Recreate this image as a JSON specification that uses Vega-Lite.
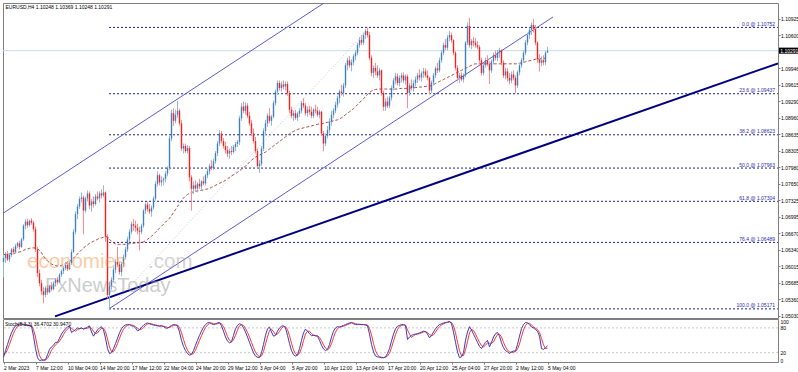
{
"$schema": "https://vega.github.io/schema/vega-lite/v6.json",
"padding": {"left": 1, "top": 2, "right": 0, "bottom": 0},
"background": "#ffffff",
"spacing": 1,
"bounds": "flush",
"config": {
  "view": {"stroke": "#7f7f7f", "strokeWidth": 1},
  "font": "Liberation Sans",
  "axis": {"labelFont": "Liberation Sans", "labelColor": "#000000", "tickColor": "#7f7f7f", "domainColor": "#7f7f7f", "labelOverlap": false, "grid": false}
},
"datasets": {
"fib": [
{"t":"0.0 @ 1.10752","p":1.10752},
{"t":"23.6 @ 1.09437","p":1.09437},
{"t":"38.2 @ 1.08623","p":1.08623},
{"t":"50.0 @ 1.07963","p":1.07963},
{"t":"61.8 @ 1.07304","p":1.07304},
{"t":"76.4 @ 1.06489","p":1.06489},
{"t":"100.0 @ 1.05171","p":1.05171}
],
"bars": [
{"i":0,"o":1.061,"h":1.0625,"l":1.058,"c":1.0618,"ma":1.0625,"k":9,"d":15},
{"i":1,"o":1.0618,"h":1.063,"l":1.0608,"c":1.0626,"ma":1.0625,"k":25,"d":18},
{"i":2,"o":1.0626,"h":1.0632,"l":1.0612,"c":1.0615,"ma":1.0626,"k":40,"d":28},
{"i":3,"o":1.0615,"h":1.0628,"l":1.061,"c":1.0624,"ma":1.0626,"k":55,"d":40},
{"i":4,"o":1.0624,"h":1.0638,"l":1.062,"c":1.0635,"ma":1.0627,"k":68,"d":54},
{"i":5,"o":1.0635,"h":1.064,"l":1.0625,"c":1.063,"ma":1.0627,"k":78,"d":67},
{"i":6,"o":1.063,"h":1.0646,"l":1.0628,"c":1.0642,"ma":1.0628,"k":85,"d":77},
{"i":7,"o":1.0642,"h":1.065,"l":1.0638,"c":1.0647,"ma":1.0629,"k":88,"d":84},
{"i":8,"o":1.0647,"h":1.0652,"l":1.0635,"c":1.064,"ma":1.063,"k":89,"d":87},
{"i":9,"o":1.064,"h":1.0658,"l":1.0638,"c":1.0655,"ma":1.0631,"k":90,"d":89},
{"i":10,"o":1.0655,"h":1.0685,"l":1.0652,"c":1.0682,"ma":1.0633,"k":88,"d":89},
{"i":11,"o":1.0682,"h":1.0695,"l":1.0675,"c":1.069,"ma":1.0635,"k":87,"d":88},
{"i":12,"o":1.069,"h":1.0696,"l":1.0678,"c":1.0683,"ma":1.0636,"k":86,"d":87},
{"i":13,"o":1.0683,"h":1.0694,"l":1.068,"c":1.0692,"ma":1.0637,"k":85,"d":86},
{"i":14,"o":1.0692,"h":1.0697,"l":1.0684,"c":1.0688,"ma":1.0638,"k":84,"d":85},
{"i":15,"o":1.0688,"h":1.0692,"l":1.067,"c":1.0675,"ma":1.0638,"k":60,"d":76},
{"i":16,"o":1.0675,"h":1.068,"l":1.063,"c":1.0635,"ma":1.0638,"k":30,"d":58},
{"i":17,"o":1.0635,"h":1.064,"l":1.058,"c":1.0588,"ma":1.0636,"k":8,"d":33},
{"i":18,"o":1.0588,"h":1.0595,"l":1.0562,"c":1.0568,"ma":1.0633,"k":1,"d":13},
{"i":19,"o":1.0568,"h":1.0575,"l":1.0545,"c":1.0552,"ma":1.0628,"k":2,"d":4},
{"i":20,"o":1.0552,"h":1.056,"l":1.0528,"c":1.0545,"ma":1.0622,"k":2,"d":2},
{"i":21,"o":1.0545,"h":1.0562,"l":1.054,"c":1.0558,"ma":1.0616,"k":3,"d":2},
{"i":22,"o":1.0558,"h":1.0564,"l":1.0545,"c":1.055,"ma":1.0612,"k":15,"d":7},
{"i":23,"o":1.055,"h":1.0565,"l":1.0548,"c":1.0562,"ma":1.0609,"k":28,"d":15},
{"i":24,"o":1.0562,"h":1.057,"l":1.0552,"c":1.0556,"ma":1.0606,"k":34,"d":26},
{"i":25,"o":1.0556,"h":1.0572,"l":1.0554,"c":1.0568,"ma":1.0604,"k":38,"d":33},
{"i":26,"o":1.0568,"h":1.0578,"l":1.0562,"c":1.0575,"ma":1.0603,"k":45,"d":39},
{"i":27,"o":1.0575,"h":1.058,"l":1.0565,"c":1.057,"ma":1.0602,"k":45,"d":43},
{"i":28,"o":1.057,"h":1.0588,"l":1.0568,"c":1.0585,"ma":1.0602,"k":55,"d":48},
{"i":29,"o":1.0585,"h":1.0595,"l":1.058,"c":1.0592,"ma":1.0603,"k":65,"d":55},
{"i":30,"o":1.0592,"h":1.0602,"l":1.0586,"c":1.0598,"ma":1.0605,"k":72,"d":64},
{"i":31,"o":1.0598,"h":1.061,"l":1.0594,"c":1.0604,"ma":1.0607,"k":78,"d":72},
{"i":32,"o":1.0604,"h":1.0612,"l":1.0592,"c":1.0596,"ma":1.0609,"k":82,"d":77},
{"i":33,"o":1.0596,"h":1.0612,"l":1.0594,"c":1.0608,"ma":1.0611,"k":85,"d":82},
{"i":34,"o":1.0608,"h":1.0635,"l":1.0604,"c":1.063,"ma":1.0614,"k":69,"d":79},
{"i":35,"o":1.063,"h":1.0675,"l":1.0628,"c":1.067,"ma":1.0618,"k":72,"d":75},
{"i":36,"o":1.067,"h":1.071,"l":1.0665,"c":1.0705,"ma":1.0622,"k":76,"d":72},
{"i":37,"o":1.0705,"h":1.0725,"l":1.0695,"c":1.072,"ma":1.0626,"k":80,"d":76},
{"i":38,"o":1.072,"h":1.074,"l":1.0715,"c":1.0735,"ma":1.063,"k":78,"d":78},
{"i":39,"o":1.0735,"h":1.0748,"l":1.0728,"c":1.0738,"ma":1.0634,"k":80,"d":79},
{"i":40,"o":1.0738,"h":1.0742,"l":1.0665,"c":1.0712,"ma":1.0638,"k":77,"d":78},
{"i":41,"o":1.0712,"h":1.074,"l":1.0708,"c":1.0736,"ma":1.0641,"k":79,"d":79},
{"i":42,"o":1.0736,"h":1.0752,"l":1.073,"c":1.0746,"ma":1.0644,"k":82,"d":79},
{"i":43,"o":1.0746,"h":1.075,"l":1.0715,"c":1.0722,"ma":1.0647,"k":85,"d":82},
{"i":44,"o":1.0722,"h":1.0735,"l":1.071,"c":1.073,"ma":1.0649,"k":70,"d":79},
{"i":45,"o":1.073,"h":1.074,"l":1.0718,"c":1.0725,"ma":1.0651,"k":60,"d":72},
{"i":46,"o":1.0725,"h":1.0745,"l":1.0722,"c":1.074,"ma":1.0653,"k":68,"d":66},
{"i":47,"o":1.074,"h":1.075,"l":1.0732,"c":1.0736,"ma":1.0655,"k":75,"d":68},
{"i":48,"o":1.0736,"h":1.075,"l":1.0728,"c":1.0746,"ma":1.0657,"k":80,"d":74},
{"i":49,"o":1.0746,"h":1.0754,"l":1.0736,"c":1.0742,"ma":1.0658,"k":83,"d":79},
{"i":50,"o":1.0742,"h":1.0762,"l":1.0738,"c":1.0748,"ma":1.0659,"k":75,"d":79},
{"i":51,"o":1.0748,"h":1.075,"l":1.065,"c":1.066,"ma":1.066,"k":55,"d":71},
{"i":52,"o":1.066,"h":1.0665,"l":1.0538,"c":1.0545,"ma":1.066,"k":30,"d":53},
{"i":53,"o":1.0545,"h":1.057,"l":1.0517,"c":1.0562,"ma":1.0655,"k":18,"d":34},
{"i":54,"o":1.0562,"h":1.058,"l":1.0555,"c":1.0575,"ma":1.0651,"k":20,"d":23},
{"i":55,"o":1.0575,"h":1.06,"l":1.057,"c":1.0595,"ma":1.0648,"k":30,"d":23},
{"i":56,"o":1.0595,"h":1.0615,"l":1.0588,"c":1.061,"ma":1.0646,"k":42,"d":31},
{"i":57,"o":1.061,"h":1.064,"l":1.06,"c":1.0605,"ma":1.0645,"k":55,"d":42},
{"i":58,"o":1.0605,"h":1.061,"l":1.0585,"c":1.059,"ma":1.0645,"k":68,"d":55},
{"i":59,"o":1.059,"h":1.061,"l":1.0582,"c":1.0606,"ma":1.0645,"k":78,"d":67},
{"i":60,"o":1.0606,"h":1.0625,"l":1.06,"c":1.062,"ma":1.0645,"k":84,"d":77},
{"i":61,"o":1.062,"h":1.064,"l":1.0615,"c":1.0635,"ma":1.0645,"k":87,"d":83},
{"i":62,"o":1.0635,"h":1.066,"l":1.063,"c":1.0655,"ma":1.0646,"k":88,"d":86},
{"i":63,"o":1.0655,"h":1.0675,"l":1.065,"c":1.067,"ma":1.0646,"k":88,"d":88},
{"i":64,"o":1.067,"h":1.069,"l":1.0665,"c":1.0685,"ma":1.0647,"k":85,"d":87},
{"i":65,"o":1.0685,"h":1.0695,"l":1.0672,"c":1.0682,"ma":1.0647,"k":84,"d":86},
{"i":66,"o":1.0682,"h":1.0692,"l":1.067,"c":1.0678,"ma":1.0648,"k":80,"d":83},
{"i":67,"o":1.0678,"h":1.0686,"l":1.0665,"c":1.0672,"ma":1.0648,"k":73,"d":79},
{"i":68,"o":1.0672,"h":1.068,"l":1.0633,"c":1.067,"ma":1.0648,"k":75,"d":76},
{"i":69,"o":1.067,"h":1.0686,"l":1.0665,"c":1.0682,"ma":1.0649,"k":82,"d":77},
{"i":70,"o":1.0682,"h":1.0715,"l":1.0678,"c":1.0712,"ma":1.065,"k":86,"d":81},
{"i":71,"o":1.0712,"h":1.0728,"l":1.0705,"c":1.0724,"ma":1.0652,"k":90,"d":86},
{"i":72,"o":1.0724,"h":1.073,"l":1.071,"c":1.0715,"ma":1.0655,"k":92,"d":89},
{"i":73,"o":1.0715,"h":1.0725,"l":1.0705,"c":1.071,"ma":1.0658,"k":90,"d":91},
{"i":74,"o":1.071,"h":1.0722,"l":1.07,"c":1.0718,"ma":1.0661,"k":88,"d":90},
{"i":75,"o":1.0718,"h":1.074,"l":1.0714,"c":1.0736,"ma":1.0665,"k":87,"d":88},
{"i":76,"o":1.0736,"h":1.077,"l":1.0732,"c":1.0765,"ma":1.0669,"k":86,"d":87},
{"i":77,"o":1.0765,"h":1.079,"l":1.076,"c":1.0782,"ma":1.0673,"k":85,"d":86},
{"i":78,"o":1.0782,"h":1.0785,"l":1.0762,"c":1.0768,"ma":1.0677,"k":84,"d":85},
{"i":79,"o":1.0768,"h":1.078,"l":1.076,"c":1.0772,"ma":1.0681,"k":85,"d":85},
{"i":80,"o":1.0772,"h":1.0778,"l":1.0762,"c":1.0775,"ma":1.0685,"k":83,"d":84},
{"i":81,"o":1.0775,"h":1.079,"l":1.0768,"c":1.0785,"ma":1.0689,"k":80,"d":83},
{"i":82,"o":1.0785,"h":1.08,"l":1.078,"c":1.0796,"ma":1.0693,"k":79,"d":81},
{"i":83,"o":1.0796,"h":1.086,"l":1.0792,"c":1.0855,"ma":1.0697,"k":83,"d":81},
{"i":84,"o":1.0855,"h":1.0912,"l":1.085,"c":1.0905,"ma":1.0702,"k":86,"d":83},
{"i":85,"o":1.0905,"h":1.0915,"l":1.088,"c":1.089,"ma":1.0708,"k":88,"d":86},
{"i":86,"o":1.089,"h":1.0912,"l":1.0885,"c":1.0902,"ma":1.0714,"k":87,"d":87},
{"i":87,"o":1.0902,"h":1.093,"l":1.0896,"c":1.091,"ma":1.072,"k":85,"d":87},
{"i":88,"o":1.091,"h":1.0914,"l":1.088,"c":1.0885,"ma":1.0726,"k":70,"d":81},
{"i":89,"o":1.0885,"h":1.0892,"l":1.083,"c":1.0835,"ma":1.0732,"k":50,"d":68},
{"i":90,"o":1.0835,"h":1.0845,"l":1.0825,"c":1.084,"ma":1.0737,"k":35,"d":52},
{"i":91,"o":1.084,"h":1.0845,"l":1.0826,"c":1.083,"ma":1.0741,"k":25,"d":37},
{"i":92,"o":1.083,"h":1.0842,"l":1.0825,"c":1.0836,"ma":1.0744,"k":18,"d":26},
{"i":93,"o":1.0836,"h":1.084,"l":1.077,"c":1.0778,"ma":1.0746,"k":14,"d":19},
{"i":94,"o":1.0778,"h":1.0782,"l":1.0712,"c":1.0755,"ma":1.0748,"k":16,"d":16},
{"i":95,"o":1.0755,"h":1.077,"l":1.0745,"c":1.0762,"ma":1.0749,"k":25,"d":18},
{"i":96,"o":1.0762,"h":1.0772,"l":1.075,"c":1.0756,"ma":1.075,"k":38,"d":26},
{"i":97,"o":1.0756,"h":1.0768,"l":1.0748,"c":1.0765,"ma":1.0751,"k":50,"d":38},
{"i":98,"o":1.0765,"h":1.0775,"l":1.0755,"c":1.076,"ma":1.0752,"k":62,"d":50},
{"i":99,"o":1.076,"h":1.0772,"l":1.0752,"c":1.077,"ma":1.0752,"k":72,"d":61},
{"i":100,"o":1.077,"h":1.078,"l":1.0762,"c":1.0766,"ma":1.0753,"k":82,"d":72},
{"i":101,"o":1.0766,"h":1.0785,"l":1.0762,"c":1.0782,"ma":1.0754,"k":88,"d":81},
{"i":102,"o":1.0782,"h":1.0795,"l":1.0776,"c":1.079,"ma":1.0755,"k":92,"d":87},
{"i":103,"o":1.079,"h":1.0805,"l":1.0784,"c":1.08,"ma":1.0756,"k":93,"d":91},
{"i":104,"o":1.08,"h":1.0812,"l":1.0792,"c":1.0796,"ma":1.0758,"k":90,"d":92},
{"i":105,"o":1.0796,"h":1.0815,"l":1.0792,"c":1.081,"ma":1.076,"k":88,"d":90},
{"i":106,"o":1.081,"h":1.083,"l":1.0805,"c":1.0826,"ma":1.0762,"k":90,"d":89},
{"i":107,"o":1.0826,"h":1.085,"l":1.082,"c":1.0845,"ma":1.0764,"k":92,"d":90},
{"i":108,"o":1.0845,"h":1.0872,"l":1.084,"c":1.0865,"ma":1.0766,"k":93,"d":92},
{"i":109,"o":1.0865,"h":1.087,"l":1.0845,"c":1.085,"ma":1.0768,"k":85,"d":90},
{"i":110,"o":1.085,"h":1.0856,"l":1.0835,"c":1.084,"ma":1.077,"k":72,"d":83},
{"i":111,"o":1.084,"h":1.0848,"l":1.0825,"c":1.0832,"ma":1.0772,"k":58,"d":72},
{"i":112,"o":1.0832,"h":1.084,"l":1.0818,"c":1.0825,"ma":1.0775,"k":48,"d":59},
{"i":113,"o":1.0825,"h":1.0835,"l":1.0815,"c":1.083,"ma":1.0778,"k":44,"d":50},
{"i":114,"o":1.083,"h":1.084,"l":1.0822,"c":1.0828,"ma":1.0781,"k":46,"d":46},
{"i":115,"o":1.0828,"h":1.0842,"l":1.0825,"c":1.0838,"ma":1.0783,"k":62,"d":51},
{"i":116,"o":1.0838,"h":1.0848,"l":1.083,"c":1.0844,"ma":1.0785,"k":78,"d":62},
{"i":117,"o":1.0844,"h":1.0852,"l":1.0838,"c":1.0848,"ma":1.0788,"k":86,"d":75},
{"i":118,"o":1.0848,"h":1.09,"l":1.0842,"c":1.0895,"ma":1.0791,"k":90,"d":85},
{"i":119,"o":1.0895,"h":1.0925,"l":1.089,"c":1.0918,"ma":1.0794,"k":88,"d":88},
{"i":120,"o":1.0918,"h":1.0928,"l":1.0905,"c":1.091,"ma":1.0797,"k":80,"d":86},
{"i":121,"o":1.091,"h":1.0926,"l":1.0902,"c":1.092,"ma":1.08,"k":70,"d":79},
{"i":122,"o":1.092,"h":1.0925,"l":1.0895,"c":1.09,"ma":1.0804,"k":58,"d":69},
{"i":123,"o":1.09,"h":1.0908,"l":1.088,"c":1.0885,"ma":1.0808,"k":45,"d":58},
{"i":124,"o":1.0885,"h":1.0892,"l":1.086,"c":1.0865,"ma":1.0812,"k":32,"d":45},
{"i":125,"o":1.0865,"h":1.0875,"l":1.0845,"c":1.085,"ma":1.0815,"k":20,"d":32},
{"i":126,"o":1.085,"h":1.0858,"l":1.0825,"c":1.083,"ma":1.0818,"k":12,"d":21},
{"i":127,"o":1.083,"h":1.0835,"l":1.0795,"c":1.08,"ma":1.082,"k":9,"d":14},
{"i":128,"o":1.08,"h":1.0812,"l":1.0787,"c":1.0805,"ma":1.0822,"k":8,"d":10},
{"i":129,"o":1.0805,"h":1.084,"l":1.08,"c":1.0835,"ma":1.0824,"k":20,"d":12},
{"i":130,"o":1.0835,"h":1.0875,"l":1.083,"c":1.087,"ma":1.0826,"k":40,"d":23},
{"i":131,"o":1.087,"h":1.0892,"l":1.0862,"c":1.0885,"ma":1.0828,"k":62,"d":41},
{"i":132,"o":1.0885,"h":1.0905,"l":1.0878,"c":1.09,"ma":1.0831,"k":78,"d":58},
{"i":133,"o":1.09,"h":1.0915,"l":1.0885,"c":1.089,"ma":1.0834,"k":82,"d":74},
{"i":134,"o":1.089,"h":1.0902,"l":1.088,"c":1.0898,"ma":1.0837,"k":70,"d":77},
{"i":135,"o":1.0898,"h":1.093,"l":1.0895,"c":1.0925,"ma":1.084,"k":60,"d":71},
{"i":136,"o":1.0925,"h":1.0952,"l":1.092,"c":1.0948,"ma":1.0843,"k":62,"d":64},
{"i":137,"o":1.0948,"h":1.097,"l":1.0942,"c":1.0965,"ma":1.0846,"k":72,"d":65},
{"i":138,"o":1.0965,"h":1.097,"l":1.095,"c":1.0955,"ma":1.0849,"k":80,"d":71},
{"i":139,"o":1.0955,"h":1.0968,"l":1.0948,"c":1.0962,"ma":1.0852,"k":84,"d":79},
{"i":140,"o":1.0962,"h":1.097,"l":1.0952,"c":1.0958,"ma":1.0855,"k":85,"d":83},
{"i":141,"o":1.0958,"h":1.0968,"l":1.095,"c":1.0963,"ma":1.0858,"k":80,"d":83},
{"i":142,"o":1.0963,"h":1.0968,"l":1.094,"c":1.0945,"ma":1.0861,"k":62,"d":76},
{"i":143,"o":1.0945,"h":1.095,"l":1.0905,"c":1.0912,"ma":1.0864,"k":42,"d":61},
{"i":144,"o":1.0912,"h":1.0918,"l":1.0895,"c":1.09,"ma":1.0867,"k":25,"d":43},
{"i":145,"o":1.09,"h":1.091,"l":1.089,"c":1.0905,"ma":1.0869,"k":15,"d":27},
{"i":146,"o":1.0905,"h":1.0912,"l":1.0892,"c":1.0896,"ma":1.0871,"k":12,"d":17},
{"i":147,"o":1.0896,"h":1.0908,"l":1.089,"c":1.0904,"ma":1.0873,"k":14,"d":14},
{"i":148,"o":1.0904,"h":1.0915,"l":1.0898,"c":1.091,"ma":1.0874,"k":30,"d":19},
{"i":149,"o":1.091,"h":1.093,"l":1.0905,"c":1.0925,"ma":1.0875,"k":50,"d":31},
{"i":150,"o":1.0925,"h":1.0935,"l":1.0915,"c":1.092,"ma":1.0876,"k":68,"d":49},
{"i":151,"o":1.092,"h":1.0925,"l":1.09,"c":1.0905,"ma":1.0877,"k":77,"d":65},
{"i":152,"o":1.0905,"h":1.0918,"l":1.0898,"c":1.0912,"ma":1.0878,"k":72,"d":72},
{"i":153,"o":1.0912,"h":1.092,"l":1.0902,"c":1.0908,"ma":1.0879,"k":66,"d":72},
{"i":154,"o":1.0908,"h":1.0918,"l":1.0895,"c":1.09,"ma":1.088,"k":61,"d":66},
{"i":155,"o":1.09,"h":1.0915,"l":1.0895,"c":1.0912,"ma":1.0881,"k":62,"d":63},
{"i":156,"o":1.0912,"h":1.0922,"l":1.0905,"c":1.091,"ma":1.0882,"k":61,"d":61},
{"i":157,"o":1.091,"h":1.0918,"l":1.0898,"c":1.0902,"ma":1.0883,"k":60,"d":61},
{"i":158,"o":1.0902,"h":1.0912,"l":1.0895,"c":1.0908,"ma":1.0884,"k":50,"d":57},
{"i":159,"o":1.0908,"h":1.091,"l":1.086,"c":1.0865,"ma":1.0884,"k":38,"d":49},
{"i":160,"o":1.0865,"h":1.087,"l":1.083,"c":1.0845,"ma":1.0885,"k":29,"d":39},
{"i":161,"o":1.0845,"h":1.0865,"l":1.084,"c":1.086,"ma":1.0886,"k":25,"d":31},
{"i":162,"o":1.086,"h":1.088,"l":1.0855,"c":1.0872,"ma":1.0887,"k":28,"d":27},
{"i":163,"o":1.0872,"h":1.0895,"l":1.0865,"c":1.0888,"ma":1.0888,"k":40,"d":31},
{"i":164,"o":1.0888,"h":1.091,"l":1.088,"c":1.0902,"ma":1.0889,"k":58,"d":42},
{"i":165,"o":1.0902,"h":1.0915,"l":1.0895,"c":1.091,"ma":1.089,"k":72,"d":57},
{"i":166,"o":1.091,"h":1.0928,"l":1.0905,"c":1.0922,"ma":1.0891,"k":80,"d":70},
{"i":167,"o":1.0922,"h":1.094,"l":1.0916,"c":1.0935,"ma":1.0892,"k":83,"d":78},
{"i":168,"o":1.0935,"h":1.0952,"l":1.0925,"c":1.0948,"ma":1.0894,"k":82,"d":82},
{"i":169,"o":1.0948,"h":1.0962,"l":1.094,"c":1.0945,"ma":1.0896,"k":84,"d":83},
{"i":170,"o":1.0945,"h":1.0965,"l":1.0938,"c":1.096,"ma":1.0899,"k":86,"d":84},
{"i":171,"o":1.096,"h":1.1005,"l":1.0955,"c":1.1,"ma":1.0902,"k":88,"d":86},
{"i":172,"o":1.1,"h":1.1015,"l":1.099,"c":1.101,"ma":1.0905,"k":90,"d":88},
{"i":173,"o":1.101,"h":1.1018,"l":1.0995,"c":1.1,"ma":1.0908,"k":92,"d":90},
{"i":174,"o":1.1,"h":1.1012,"l":1.0988,"c":1.1006,"ma":1.0911,"k":93,"d":92},
{"i":175,"o":1.1006,"h":1.1022,"l":1.1,"c":1.1018,"ma":1.0914,"k":90,"d":92},
{"i":176,"o":1.1018,"h":1.103,"l":1.101,"c":1.1025,"ma":1.0918,"k":88,"d":90},
{"i":177,"o":1.1025,"h":1.1045,"l":1.102,"c":1.104,"ma":1.0922,"k":88,"d":89},
{"i":178,"o":1.104,"h":1.1056,"l":1.1035,"c":1.105,"ma":1.0926,"k":89,"d":88},
{"i":179,"o":1.105,"h":1.106,"l":1.104,"c":1.1045,"ma":1.093,"k":88,"d":88},
{"i":180,"o":1.1045,"h":1.1065,"l":1.104,"c":1.106,"ma":1.0934,"k":88,"d":88},
{"i":181,"o":1.106,"h":1.1072,"l":1.1052,"c":1.1068,"ma":1.0938,"k":87,"d":88},
{"i":182,"o":1.1068,"h":1.1075,"l":1.1055,"c":1.106,"ma":1.0942,"k":85,"d":87},
{"i":183,"o":1.106,"h":1.1066,"l":1.101,"c":1.1015,"ma":1.0946,"k":65,"d":79},
{"i":184,"o":1.1015,"h":1.102,"l":1.0978,"c":1.0985,"ma":1.0949,"k":40,"d":63},
{"i":185,"o":1.0985,"h":1.1,"l":1.0975,"c":1.0995,"ma":1.0951,"k":22,"d":42},
{"i":186,"o":1.0995,"h":1.1005,"l":1.098,"c":1.0988,"ma":1.0952,"k":12,"d":25},
{"i":187,"o":1.0988,"h":1.1,"l":1.0975,"c":1.098,"ma":1.0953,"k":10,"d":15},
{"i":188,"o":1.098,"h":1.0995,"l":1.097,"c":1.099,"ma":1.0953,"k":9,"d":10},
{"i":189,"o":1.099,"h":1.0992,"l":1.094,"c":1.0945,"ma":1.0953,"k":8,"d":9},
{"i":190,"o":1.0945,"h":1.095,"l":1.091,"c":1.0918,"ma":1.0953,"k":8,"d":8},
{"i":191,"o":1.0918,"h":1.0935,"l":1.091,"c":1.0928,"ma":1.0953,"k":10,"d":9},
{"i":192,"o":1.0928,"h":1.0938,"l":1.0915,"c":1.092,"ma":1.0953,"k":18,"d":12},
{"i":193,"o":1.092,"h":1.094,"l":1.0915,"c":1.0936,"ma":1.0953,"k":30,"d":19},
{"i":194,"o":1.0936,"h":1.096,"l":1.093,"c":1.0955,"ma":1.0953,"k":48,"d":32},
{"i":195,"o":1.0955,"h":1.0975,"l":1.095,"c":1.097,"ma":1.0953,"k":65,"d":48},
{"i":196,"o":1.097,"h":1.0985,"l":1.0962,"c":1.0978,"ma":1.0953,"k":78,"d":64},
{"i":197,"o":1.0978,"h":1.0984,"l":1.096,"c":1.0965,"ma":1.0953,"k":84,"d":76},
{"i":198,"o":1.0965,"h":1.098,"l":1.0958,"c":1.0975,"ma":1.0954,"k":86,"d":83},
{"i":199,"o":1.0975,"h":1.0985,"l":1.0966,"c":1.098,"ma":1.0954,"k":88,"d":86},
{"i":200,"o":1.098,"h":1.0986,"l":1.0965,"c":1.097,"ma":1.0954,"k":88,"d":87},
{"i":201,"o":1.097,"h":1.0982,"l":1.0962,"c":1.0978,"ma":1.0954,"k":86,"d":87},
{"i":202,"o":1.0978,"h":1.0982,"l":1.0915,"c":1.0945,"ma":1.0955,"k":52,"d":75},
{"i":203,"o":1.0945,"h":1.0965,"l":1.094,"c":1.096,"ma":1.0955,"k":58,"d":65},
{"i":204,"o":1.096,"h":1.0972,"l":1.095,"c":1.0955,"ma":1.0955,"k":62,"d":57},
{"i":205,"o":1.0955,"h":1.097,"l":1.0948,"c":1.0965,"ma":1.0955,"k":64,"d":61},
{"i":206,"o":1.0965,"h":1.0978,"l":1.0958,"c":1.0972,"ma":1.0956,"k":65,"d":64},
{"i":207,"o":1.0972,"h":1.0985,"l":1.0965,"c":1.098,"ma":1.0956,"k":66,"d":65},
{"i":208,"o":1.098,"h":1.0992,"l":1.097,"c":1.0976,"ma":1.0957,"k":68,"d":66},
{"i":209,"o":1.0976,"h":1.0988,"l":1.0968,"c":1.0984,"ma":1.0957,"k":70,"d":68},
{"i":210,"o":1.0984,"h":1.0995,"l":1.0975,"c":1.0988,"ma":1.0958,"k":72,"d":70},
{"i":211,"o":1.0988,"h":1.0994,"l":1.0976,"c":1.098,"ma":1.0958,"k":71,"d":71},
{"i":212,"o":1.098,"h":1.099,"l":1.097,"c":1.0975,"ma":1.0959,"k":65,"d":69},
{"i":213,"o":1.0975,"h":1.0978,"l":1.0943,"c":1.095,"ma":1.0959,"k":56,"d":64},
{"i":214,"o":1.095,"h":1.097,"l":1.0945,"c":1.0966,"ma":1.096,"k":62,"d":61},
{"i":215,"o":1.0966,"h":1.0985,"l":1.096,"c":1.098,"ma":1.0962,"k":70,"d":63},
{"i":216,"o":1.098,"h":1.0998,"l":1.0975,"c":1.0994,"ma":1.0964,"k":78,"d":70},
{"i":217,"o":1.0994,"h":1.1005,"l":1.0985,"c":1.099,"ma":1.0966,"k":84,"d":77},
{"i":218,"o":1.099,"h":1.1015,"l":1.0986,"c":1.101,"ma":1.0968,"k":88,"d":83},
{"i":219,"o":1.101,"h":1.103,"l":1.1005,"c":1.1025,"ma":1.097,"k":90,"d":87},
{"i":220,"o":1.1025,"h":1.1045,"l":1.102,"c":1.104,"ma":1.0972,"k":92,"d":90},
{"i":221,"o":1.104,"h":1.1052,"l":1.103,"c":1.1035,"ma":1.0974,"k":93,"d":92},
{"i":222,"o":1.1035,"h":1.106,"l":1.103,"c":1.1055,"ma":1.0976,"k":94,"d":93},
{"i":223,"o":1.1055,"h":1.1068,"l":1.1048,"c":1.106,"ma":1.0978,"k":96,"d":94},
{"i":224,"o":1.106,"h":1.1065,"l":1.1045,"c":1.105,"ma":1.098,"k":90,"d":93},
{"i":225,"o":1.105,"h":1.1052,"l":1.102,"c":1.1025,"ma":1.0982,"k":70,"d":85},
{"i":226,"o":1.1025,"h":1.1028,"l":1.099,"c":1.0995,"ma":1.0984,"k":45,"d":68},
{"i":227,"o":1.0995,"h":1.1,"l":1.0968,"c":1.0975,"ma":1.0986,"k":22,"d":46},
{"i":228,"o":1.0975,"h":1.0985,"l":1.0965,"c":1.098,"ma":1.0988,"k":8,"d":25},
{"i":229,"o":1.098,"h":1.0986,"l":1.0968,"c":1.0972,"ma":1.099,"k":10,"d":13},
{"i":230,"o":1.0972,"h":1.0984,"l":1.0966,"c":1.098,"ma":1.0992,"k":20,"d":13},
{"i":231,"o":1.098,"h":1.1048,"l":1.0976,"c":1.1045,"ma":1.0994,"k":50,"d":27},
{"i":232,"o":1.1045,"h":1.1085,"l":1.104,"c":1.1078,"ma":1.0996,"k":70,"d":47},
{"i":233,"o":1.1078,"h":1.1094,"l":1.1035,"c":1.104,"ma":1.0998,"k":83,"d":68},
{"i":234,"o":1.104,"h":1.1052,"l":1.1032,"c":1.1048,"ma":1.1,"k":75,"d":76},
{"i":235,"o":1.1048,"h":1.1056,"l":1.1038,"c":1.1045,"ma":1.1002,"k":65,"d":74},
{"i":236,"o":1.1045,"h":1.1054,"l":1.1035,"c":1.104,"ma":1.1003,"k":55,"d":65},
{"i":237,"o":1.104,"h":1.1048,"l":1.1032,"c":1.1036,"ma":1.1003,"k":45,"d":55},
{"i":238,"o":1.1036,"h":1.104,"l":1.1005,"c":1.101,"ma":1.1003,"k":35,"d":45},
{"i":239,"o":1.101,"h":1.1015,"l":1.098,"c":1.0985,"ma":1.1003,"k":30,"d":37},
{"i":240,"o":1.0985,"h":1.1005,"l":1.098,"c":1.1,"ma":1.1003,"k":38,"d":34},
{"i":241,"o":1.1,"h":1.1015,"l":1.0995,"c":1.101,"ma":1.1003,"k":45,"d":38},
{"i":242,"o":1.101,"h":1.102,"l":1.0998,"c":1.1002,"ma":1.1003,"k":50,"d":44},
{"i":243,"o":1.1002,"h":1.1008,"l":1.0963,"c":1.099,"ma":1.1003,"k":34,"d":43},
{"i":244,"o":1.099,"h":1.1012,"l":1.0985,"c":1.1008,"ma":1.1003,"k":45,"d":43},
{"i":245,"o":1.1008,"h":1.1025,"l":1.1002,"c":1.102,"ma":1.1003,"k":58,"d":46},
{"i":246,"o":1.102,"h":1.103,"l":1.101,"c":1.1015,"ma":1.1003,"k":66,"d":56},
{"i":247,"o":1.1015,"h":1.103,"l":1.1008,"c":1.1025,"ma":1.1003,"k":69,"d":64},
{"i":248,"o":1.1025,"h":1.1035,"l":1.1015,"c":1.103,"ma":1.1003,"k":60,"d":65},
{"i":249,"o":1.103,"h":1.1032,"l":1.1,"c":1.1005,"ma":1.1003,"k":44,"d":58},
{"i":250,"o":1.1005,"h":1.101,"l":1.0975,"c":1.098,"ma":1.1003,"k":32,"d":45},
{"i":251,"o":1.098,"h":1.0995,"l":1.0972,"c":1.0988,"ma":1.1003,"k":25,"d":34},
{"i":252,"o":1.0988,"h":1.0994,"l":1.0968,"c":1.0975,"ma":1.1003,"k":22,"d":26},
{"i":253,"o":1.0975,"h":1.0985,"l":1.0962,"c":1.097,"ma":1.1003,"k":18,"d":22},
{"i":254,"o":1.097,"h":1.0988,"l":1.0965,"c":1.0982,"ma":1.1003,"k":22,"d":21},
{"i":255,"o":1.0982,"h":1.099,"l":1.097,"c":1.0975,"ma":1.1003,"k":24,"d":21},
{"i":256,"o":1.0975,"h":1.098,"l":1.0945,"c":1.096,"ma":1.1003,"k":24,"d":23},
{"i":257,"o":1.096,"h":1.099,"l":1.0955,"c":1.0986,"ma":1.1003,"k":40,"d":29},
{"i":258,"o":1.0986,"h":1.1005,"l":1.098,"c":1.1,"ma":1.1004,"k":60,"d":41},
{"i":259,"o":1.1,"h":1.1015,"l":1.0995,"c":1.101,"ma":1.1005,"k":78,"d":59},
{"i":260,"o":1.101,"h":1.103,"l":1.1005,"c":1.1025,"ma":1.1006,"k":88,"d":75},
{"i":261,"o":1.1025,"h":1.105,"l":1.102,"c":1.1045,"ma":1.1007,"k":93,"d":86},
{"i":262,"o":1.1045,"h":1.1065,"l":1.104,"c":1.106,"ma":1.1008,"k":92,"d":91},
{"i":263,"o":1.106,"h":1.1075,"l":1.1052,"c":1.107,"ma":1.1009,"k":88,"d":91},
{"i":264,"o":1.107,"h":1.1085,"l":1.106,"c":1.108,"ma":1.101,"k":82,"d":87},
{"i":265,"o":1.108,"h":1.1092,"l":1.1065,"c":1.1072,"ma":1.1011,"k":80,"d":83},
{"i":266,"o":1.1072,"h":1.108,"l":1.104,"c":1.1045,"ma":1.1012,"k":76,"d":79},
{"i":267,"o":1.1045,"h":1.1048,"l":1.1005,"c":1.1012,"ma":1.1012,"k":72,"d":76},
{"i":268,"o":1.1012,"h":1.1022,"l":1.0988,"c":1.1005,"ma":1.1013,"k":60,"d":69},
{"i":269,"o":1.1005,"h":1.1018,"l":1.0998,"c":1.101,"ma":1.1013,"k":30,"d":54},
{"i":270,"o":1.101,"h":1.102,"l":1.1,"c":1.1006,"ma":1.1014,"k":28,"d":39},
{"i":271,"o":1.1006,"h":1.1028,"l":1.1,"c":1.10248,"ma":1.1014,"k":32,"d":30},
{"i":272,"o":1.10248,"h":1.10369,"l":1.10248,"c":1.10291,"ma":1.1015,"k":36.47,"d":30.95}
]
},
"vconcat": [
{
"width": 775, "height": 315,
"layer": [
{"data": {"values": [{}]}, "mark": {"type": "rule", "color": "#c4dde6", "strokeWidth": 1},
 "encoding": {
  "x": {"datum": -0.25, "type": "quantitative", "scale": {"domain": [-0.25, 387.25], "nice": false, "zero": false}, "axis": null},
  "x2": {"datum": 387.25},
  "y": {"datum": 1.10291, "type": "quantitative", "scale": {"domain": [1.0499, 1.11236], "nice": false, "zero": false},
   "axis": {"orient": "right", "values": [1.0503,1.0536,1.05685,1.06015,1.0634,1.0667,1.06995,1.07325,1.0765,1.0798,1.08305,1.08635,1.0896,1.0929,1.09615,1.09946,1.106,1.10925], "format": ".5f", "labelFontSize": 5, "tickSize": 2, "labelPadding": 0.5, "title": null, "grid": false, "domain": false, "labelOverlap": false, "labelFlush": false}}}},
{"data": {"name": "fib"}, "mark": {"type": "rule", "color": "#1f1f9e", "strokeWidth": 1, "strokeDash": [2, 2]},
 "encoding": {"x": {"datum": 52.75, "type": "quantitative", "axis": null}, "x2": {"datum": 387.25},
  "y": {"field": "p", "type": "quantitative", "axis": {"orient": "right", "values": [1.0503,1.0536,1.05685,1.06015,1.0634,1.0667,1.06995,1.07325,1.0765,1.0798,1.08305,1.08635,1.0896,1.0929,1.09615,1.09946,1.106,1.10925], "format": ".5f", "labelFontSize": 5, "tickSize": 2, "labelPadding": 0.5, "title": null, "grid": false, "domain": false, "labelOverlap": false, "labelFlush": false}}}},
{"data": {"name": "fib"}, "mark": {"type": "text", "color": "#2a2aa8", "fontSize": 5, "align": "right", "baseline": "bottom", "dy": -0.5},
 "encoding": {"x": {"datum": 385.75, "type": "quantitative", "axis": null},
  "y": {"field": "p", "type": "quantitative", "axis": {"orient": "right", "values": [1.0503,1.0536,1.05685,1.06015,1.0634,1.0667,1.06995,1.07325,1.0765,1.0798,1.08305,1.08635,1.0896,1.0929,1.09615,1.09946,1.106,1.10925], "format": ".5f", "labelFontSize": 5, "tickSize": 2, "labelPadding": 0.5, "title": null, "grid": false, "domain": false, "labelOverlap": false, "labelFlush": false}}, "text": {"field": "t"}}},
{"data": {"values": [{}]}, "mark": {"type": "rule", "color": "#c8c8c8", "strokeWidth": 1, "strokeDash": [1, 2], "clip": true},
 "encoding": {"x": {"datum": 52.75, "type": "quantitative", "axis": null}, "x2": {"datum": 183},
  "y": {"datum": 1.05171, "type": "quantitative", "axis": {"orient": "right", "values": [1.0503,1.0536,1.05685,1.06015,1.0634,1.0667,1.06995,1.07325,1.0765,1.0798,1.08305,1.08635,1.0896,1.0929,1.09615,1.09946,1.106,1.10925], "format": ".5f", "labelFontSize": 5, "tickSize": 2, "labelPadding": 0.5, "title": null, "grid": false, "domain": false, "labelOverlap": false, "labelFlush": false}}, "y2": {"datum": 1.10752}}},
{"data": {"values": [{}]}, "mark": {"type": "rule", "color": "#5c5cd0", "strokeWidth": 1, "clip": true},
 "encoding": {"x": {"datum": -0.25, "type": "quantitative", "axis": null}, "x2": {"datum": 160.25},
  "y": {"datum": 1.07066, "type": "quantitative", "axis": {"orient": "right", "values": [1.0503,1.0536,1.05685,1.06015,1.0634,1.0667,1.06995,1.07325,1.0765,1.0798,1.08305,1.08635,1.0896,1.0929,1.09615,1.09946,1.106,1.10925], "format": ".5f", "labelFontSize": 5, "tickSize": 2, "labelPadding": 0.5, "title": null, "grid": false, "domain": false, "labelOverlap": false, "labelFlush": false}}, "y2": {"datum": 1.11236}}},
{"data": {"values": [{}]}, "mark": {"type": "rule", "color": "#5c5cd0", "strokeWidth": 1, "clip": true},
 "encoding": {"x": {"datum": 52.75, "type": "quantitative", "axis": null}, "x2": {"datum": 274.75},
  "y": {"datum": 1.05171, "type": "quantitative", "axis": {"orient": "right", "values": [1.0503,1.0536,1.05685,1.06015,1.0634,1.0667,1.06995,1.07325,1.0765,1.0798,1.08305,1.08635,1.0896,1.0929,1.09615,1.09946,1.106,1.10925], "format": ".5f", "labelFontSize": 5, "tickSize": 2, "labelPadding": 0.5, "title": null, "grid": false, "domain": false, "labelOverlap": false, "labelFlush": false}}, "y2": {"datum": 1.10959}}},
{"data": {"values": [{}]}, "mark": {"type": "rule", "color": "#00007f", "strokeWidth": 2, "clip": true},
 "encoding": {"x": {"datum": 25.75, "type": "quantitative", "axis": null}, "x2": {"datum": 387.25},
  "y": {"datum": 1.05023, "type": "quantitative", "axis": {"orient": "right", "values": [1.0503,1.0536,1.05685,1.06015,1.0634,1.0667,1.06995,1.07325,1.0765,1.0798,1.08305,1.08635,1.0896,1.0929,1.09615,1.09946,1.106,1.10925], "format": ".5f", "labelFontSize": 5, "tickSize": 2, "labelPadding": 0.5, "title": null, "grid": false, "domain": false, "labelOverlap": false, "labelFlush": false}}, "y2": {"datum": 1.10039}}},
{"data": {"name": "bars"}, "mark": {"type": "line", "color": "#a44a3a", "strokeWidth": 1, "strokeDash": [3, 2]},
 "encoding": {"x": {"field": "i", "type": "quantitative", "axis": null},
  "y": {"field": "ma", "type": "quantitative", "axis": {"orient": "right", "values": [1.0503,1.0536,1.05685,1.06015,1.0634,1.0667,1.06995,1.07325,1.0765,1.0798,1.08305,1.08635,1.0896,1.0929,1.09615,1.09946,1.106,1.10925], "format": ".5f", "labelFontSize": 5, "tickSize": 2, "labelPadding": 0.5, "title": null, "grid": false, "domain": false, "labelOverlap": false, "labelFlush": false}}}},
{"data": {"name": "bars"}, "mark": {"type": "rule", "strokeWidth": 1},
 "encoding": {"x": {"field": "i", "type": "quantitative", "axis": null},
  "y": {"field": "l", "type": "quantitative", "axis": {"orient": "right", "values": [1.0503,1.0536,1.05685,1.06015,1.0634,1.0667,1.06995,1.07325,1.0765,1.0798,1.08305,1.08635,1.0896,1.0929,1.09615,1.09946,1.106,1.10925], "format": ".5f", "labelFontSize": 5, "tickSize": 2, "labelPadding": 0.5, "title": null, "grid": false, "domain": false, "labelOverlap": false, "labelFlush": false}}, "y2": {"field": "h"},
   "color": {"condition": {"test": "datum.c >= datum.o", "value": "#93b8dc"}, "value": "#ff8c8c"}}},
{"data": {"name": "bars"}, "mark": {"type": "rule", "strokeWidth": 1.4},
 "encoding": {"x": {"field": "i", "type": "quantitative", "axis": null},
  "y": {"field": "o", "type": "quantitative", "axis": {"orient": "right", "values": [1.0503,1.0536,1.05685,1.06015,1.0634,1.0667,1.06995,1.07325,1.0765,1.0798,1.08305,1.08635,1.0896,1.0929,1.09615,1.09946,1.106,1.10925], "format": ".5f", "labelFontSize": 5, "tickSize": 2, "labelPadding": 0.5, "title": null, "grid": false, "domain": false, "labelOverlap": false, "labelFlush": false}}, "y2": {"field": "c"},
   "color": {"condition": {"test": "datum.c >= datum.o", "value": "#3f7fbf"}, "value": "#ff1c1c"}}},
{"data": {"values": [{}]}, "mark": {"type": "text", "text": "economies", "fontSize": 20.5, "color": "#f59a55", "opacity": 0.5, "align": "left", "baseline": "alphabetic"},
 "encoding": {"x": {"datum": 11.75, "type": "quantitative", "axis": null},
  "y": {"datum": 1.05982, "type": "quantitative", "axis": {"orient": "right", "values": [1.0503,1.0536,1.05685,1.06015,1.0634,1.0667,1.06995,1.07325,1.0765,1.0798,1.08305,1.08635,1.0896,1.0929,1.09615,1.09946,1.106,1.10925], "format": ".5f", "labelFontSize": 5, "tickSize": 2, "labelPadding": 0.5, "title": null, "grid": false, "domain": false, "labelOverlap": false, "labelFlush": false}}}},
{"data": {"values": [{}]}, "mark": {"type": "text", "text": ".com", "fontSize": 20.5, "color": "#a8a8a8", "opacity": 0.5, "align": "right", "baseline": "alphabetic"},
 "encoding": {"x": {"datum": 94.5, "type": "quantitative", "axis": null},
  "y": {"datum": 1.05982, "type": "quantitative", "axis": {"orient": "right", "values": [1.0503,1.0536,1.05685,1.06015,1.0634,1.0667,1.06995,1.07325,1.0765,1.0798,1.08305,1.08635,1.0896,1.0929,1.09615,1.09946,1.106,1.10925], "format": ".5f", "labelFontSize": 5, "tickSize": 2, "labelPadding": 0.5, "title": null, "grid": false, "domain": false, "labelOverlap": false, "labelFlush": false}}}},
{"data": {"values": [{}]}, "mark": {"type": "text", "text": "FxNewsToday", "fontSize": 20, "color": "#9a9a9a", "opacity": 0.5, "align": "left", "baseline": "alphabetic"},
 "encoding": {"x": {"datum": 20.75, "type": "quantitative", "axis": null},
  "y": {"datum": 1.05505, "type": "quantitative", "axis": {"orient": "right", "values": [1.0503,1.0536,1.05685,1.06015,1.0634,1.0667,1.06995,1.07325,1.0765,1.0798,1.08305,1.08635,1.0896,1.0929,1.09615,1.09946,1.106,1.10925], "format": ".5f", "labelFontSize": 5, "tickSize": 2, "labelPadding": 0.5, "title": null, "grid": false, "domain": false, "labelOverlap": false, "labelFlush": false}}}},
{"data": {"values": [{}]}, "mark": {"type": "text", "text": "EURUSD,H4  1.10248 1.10369 1.10248 1.10291", "fontSize": 5, "color": "#000000", "align": "left", "baseline": "middle"},
 "encoding": {"x": {"datum": 1, "type": "quantitative", "axis": null},
  "y": {"datum": 1.11147, "type": "quantitative", "axis": {"orient": "right", "values": [1.0503,1.0536,1.05685,1.06015,1.0634,1.0667,1.06995,1.07325,1.0765,1.0798,1.08305,1.08635,1.0896,1.0929,1.09615,1.09946,1.106,1.10925], "format": ".5f", "labelFontSize": 5, "tickSize": 2, "labelPadding": 0.5, "title": null, "grid": false, "domain": false, "labelOverlap": false, "labelFlush": false}}}},
{"data": {"values": [{}]}, "mark": {"type": "rect", "color": "#000000"},
 "encoding": {"x": {"datum": 387.75, "type": "quantitative", "axis": null}, "x2": {"datum": 397.6},
  "y": {"datum": 1.10351, "type": "quantitative", "axis": {"orient": "right", "values": [1.0503,1.0536,1.05685,1.06015,1.0634,1.0667,1.06995,1.07325,1.0765,1.0798,1.08305,1.08635,1.0896,1.0929,1.09615,1.09946,1.106,1.10925], "format": ".5f", "labelFontSize": 5, "tickSize": 2, "labelPadding": 0.5, "title": null, "grid": false, "domain": false, "labelOverlap": false, "labelFlush": false}}, "y2": {"datum": 1.10231}}},
{"data": {"values": [{}]}, "mark": {"type": "text", "text": "1.10291", "fontSize": 5, "color": "#ffffff", "align": "left", "baseline": "middle"},
 "encoding": {"x": {"datum": 388.4, "type": "quantitative", "axis": null},
  "y": {"datum": 1.10291, "type": "quantitative", "axis": {"orient": "right", "values": [1.0503,1.0536,1.05685,1.06015,1.0634,1.0667,1.06995,1.07325,1.0765,1.0798,1.08305,1.08635,1.0896,1.0929,1.09615,1.09946,1.106,1.10925], "format": ".5f", "labelFontSize": 5, "tickSize": 2, "labelPadding": 0.5, "title": null, "grid": false, "domain": false, "labelOverlap": false, "labelFlush": false}}}}
]
},
{
"width": 775, "height": 43,
"layer": [
{"data": {"values": [{"v": 20}, {"v": 80}]}, "mark": {"type": "rule", "color": "#c8c8c8", "strokeWidth": 1, "strokeDash": [2, 2]},
 "encoding": {"y": {"field": "v", "type": "quantitative", "scale": {"domain": [-2.5, 101.5], "nice": false, "zero": false},
   "axis": {"orient": "right", "values": [0, 20, 80, 100], "labelFontSize": 5, "tickSize": 0, "labelPadding": 2, "title": null, "grid": false, "domain": false, "labelOverlap": false, "labelFlush": true}}}},
{"data": {"name": "bars"}, "mark": {"type": "line", "color": "#ff3434", "strokeWidth": 1},
 "encoding": {"x": {"field": "i", "type": "quantitative", "scale": {"domain": [-0.25, 387.25], "nice": false, "zero": false},
   "axis": {"orient": "bottom", "values": [0,16,32,48,64,80,96,112,128,144,160,176,192,208,224,240,256,272],
     "labelExpr": "['2 Mar 2023','7 Mar 12:00','10 Mar 04:00','14 Mar 20:00','17 Mar 12:00','22 Mar 04:00','24 Mar 20:00','29 Mar 12:00','3 Apr 04:00','5 Apr 20:00','10 Apr 12:00','13 Apr 04:00','17 Apr 20:00','20 Apr 12:00','25 Apr 04:00','27 Apr 20:00','2 May 12:00','5 May 04:00'][round(datum.value/16)]",
     "labelAlign": "left", "labelFontSize": 5, "tickSize": 2, "labelPadding": 1, "title": null, "grid": false, "domain": false, "labelOverlap": false, "labelFlush": false}},
   "y": {"field": "d", "type": "quantitative", "axis": {"orient": "right", "values": [0, 20, 80, 100], "labelFontSize": 5, "tickSize": 0, "labelPadding": 2, "title": null, "grid": false, "domain": false, "labelOverlap": false, "labelFlush": true}}}},
{"data": {"name": "bars"}, "mark": {"type": "line", "color": "#3a3ab8", "strokeWidth": 1},
 "encoding": {"x": {"field": "i", "type": "quantitative", "axis": {"orient": "bottom", "values": [0,16,32,48,64,80,96,112,128,144,160,176,192,208,224,240,256,272],
     "labelExpr": "['2 Mar 2023','7 Mar 12:00','10 Mar 04:00','14 Mar 20:00','17 Mar 12:00','22 Mar 04:00','24 Mar 20:00','29 Mar 12:00','3 Apr 04:00','5 Apr 20:00','10 Apr 12:00','13 Apr 04:00','17 Apr 20:00','20 Apr 12:00','25 Apr 04:00','27 Apr 20:00','2 May 12:00','5 May 04:00'][round(datum.value/16)]",
     "labelAlign": "left", "labelFontSize": 5, "tickSize": 2, "labelPadding": 1, "title": null, "grid": false, "domain": false, "labelOverlap": false, "labelFlush": false}},
   "y": {"field": "k", "type": "quantitative", "axis": {"orient": "right", "values": [0, 20, 80, 100], "labelFontSize": 5, "tickSize": 0, "labelPadding": 2, "title": null, "grid": false, "domain": false, "labelOverlap": false, "labelFlush": true}}}},
{"data": {"values": [{}]}, "mark": {"type": "text", "text": "Stoch(5,3,3) 36.4702 30.9470", "fontSize": 5, "color": "#000000", "align": "left", "baseline": "middle"},
 "encoding": {"x": {"datum": 0.75, "type": "quantitative", "axis": {"orient": "bottom", "values": [0,16,32,48,64,80,96,112,128,144,160,176,192,208,224,240,256,272],
     "labelExpr": "['2 Mar 2023','7 Mar 12:00','10 Mar 04:00','14 Mar 20:00','17 Mar 12:00','22 Mar 04:00','24 Mar 20:00','29 Mar 12:00','3 Apr 04:00','5 Apr 20:00','10 Apr 12:00','13 Apr 04:00','17 Apr 20:00','20 Apr 12:00','25 Apr 04:00','27 Apr 20:00','2 May 12:00','5 May 04:00'][round(datum.value/16)]",
     "labelAlign": "left", "labelFontSize": 5, "tickSize": 2, "labelPadding": 1, "title": null, "grid": false, "domain": false, "labelOverlap": false, "labelFlush": false}},
   "y": {"datum": 88.2, "type": "quantitative", "axis": {"orient": "right", "values": [0, 20, 80, 100], "labelFontSize": 5, "tickSize": 0, "labelPadding": 2, "title": null, "grid": false, "domain": false, "labelOverlap": false, "labelFlush": true}}}}
]
}
]
}
